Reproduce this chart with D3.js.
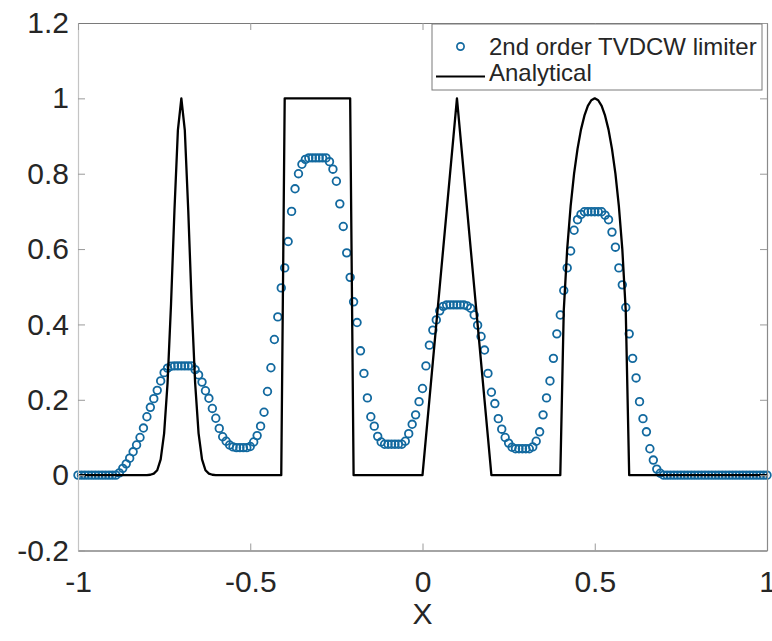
<!DOCTYPE html>
<html>
<head>
<meta charset="utf-8">
<script src="https://cdn.jsdelivr.net/npm/d3@7"></script>
<style>
  body { margin: 0; background: #fff; }
  text { font-family: "Liberation Sans", Arial, Helvetica, sans-serif; fill: #262626; }
</style>
</head>
<body>
<div class="chart"></div>
<script>
// grid nodes, x from -1 to 1 with step 0.01
const xGrid = d3.range(201).map(i => +(-1 + i * 0.01).toFixed(2));

// numerical solution (circles), one value per grid node
const tvdcw = [
  0, 0, 0, 0, 0, 0, 0, 0, 0, 0, 0, 0,
  0.006, 0.018, 0.03, 0.045, 0.062, 0.08, 0.10, 0.125, 0.155, 0.18, 0.203, 0.225, 0.25, 0.272, 0.284, 0.289,
  0.29, 0.29, 0.29, 0.29, 0.29, 0.29,
  0.28, 0.266, 0.247, 0.224, 0.204, 0.177, 0.151, 0.124, 0.102, 0.09, 0.08, 0.075,
  0.073, 0.073, 0.073, 0.073,
  0.076, 0.088, 0.105, 0.13, 0.167, 0.222, 0.285, 0.36, 0.42, 0.497, 0.55, 0.62, 0.70, 0.76, 0.80, 0.825, 0.838,
  0.842, 0.842, 0.842, 0.842, 0.842, 0.842,
  0.832, 0.812, 0.78, 0.72, 0.66, 0.59, 0.525, 0.46, 0.405, 0.33, 0.27, 0.205, 0.155, 0.13, 0.103, 0.088,
  0.082, 0.082, 0.082, 0.082, 0.082, 0.082,
  0.09, 0.11, 0.135, 0.16, 0.195, 0.23, 0.29, 0.345, 0.385, 0.412, 0.436, 0.448,
  0.452, 0.452, 0.452, 0.452, 0.452, 0.452,
  0.449, 0.443, 0.425, 0.398, 0.368, 0.332, 0.27, 0.22, 0.19, 0.15, 0.122, 0.1, 0.085, 0.074,
  0.07, 0.07, 0.07, 0.07, 0.07,
  0.075, 0.09, 0.115, 0.16, 0.205, 0.25, 0.31, 0.375, 0.425, 0.49, 0.55, 0.595, 0.65, 0.678, 0.692,
  0.699, 0.699, 0.699, 0.699, 0.699, 0.699,
  0.69, 0.678, 0.645, 0.605, 0.55, 0.505, 0.445, 0.375, 0.31, 0.258, 0.195, 0.15, 0.115, 0.07, 0.04, 0.016, 0.005,
  0, 0, 0, 0, 0, 0, 0, 0, 0, 0, 0, 0, 0, 0, 0, 0, 0, 0, 0, 0, 0, 0, 0, 0, 0, 0, 0, 0, 0, 0, 0
];

// analytical solution (black line), one value per grid node
const analytical = [
  0, 0, 0, 0, 0, 0, 0, 0, 0, 0, 0, 0, 0, 0, 0, 0, 0, 0, 0, 0, 0,
  0.001, 0.004, 0.013, 0.042, 0.111, 0.245, 0.453, 0.703, 0.916, 1, 0.916, 0.703, 0.453, 0.245, 0.111, 0.042, 0.013, 0.004, 0.001,
  0, 0, 0, 0, 0, 0, 0, 0, 0, 0, 0, 0, 0, 0, 0, 0, 0, 0, 0, 0,
  1, 1, 1, 1, 1, 1, 1, 1, 1, 1, 1, 1, 1, 1, 1, 1, 1, 1, 1, 1,
  0, 0, 0, 0, 0, 0, 0, 0, 0, 0, 0, 0, 0, 0, 0, 0, 0, 0, 0, 0, 0,
  0.1, 0.2, 0.3, 0.4, 0.5, 0.6, 0.7, 0.8, 0.9, 1, 0.9, 0.8, 0.7, 0.6, 0.5, 0.4, 0.3, 0.2, 0.1,
  0, 0, 0, 0, 0, 0, 0, 0, 0, 0, 0, 0, 0, 0, 0, 0, 0, 0, 0, 0, 0,
  0.436, 0.6, 0.714, 0.8, 0.866, 0.917, 0.954, 0.98, 0.995, 1, 0.995, 0.98, 0.954, 0.917, 0.866, 0.8, 0.714, 0.6, 0.436,
  0, 0, 0, 0, 0, 0, 0, 0, 0, 0, 0, 0, 0, 0, 0, 0, 0, 0, 0, 0,
  0, 0, 0, 0, 0, 0, 0, 0, 0, 0, 0, 0, 0, 0, 0, 0, 0, 0, 0, 0, 0
];

const xTicks = [-1, -0.5, 0, 0.5, 1];
const xTickLabels = ["-1", "-0.5", "0", "0.5", "1"];
const yTicks = [-0.2, 0, 0.2, 0.4, 0.6, 0.8, 1, 1.2];
const yTickLabels = ["-0.2", "0", "0.2", "0.4", "0.6", "0.8", "1", "1.2"];
const seriesNames = ["2nd order TVDCW limiter", "Analytical"];

//Margin convention
const W = 772, H = 641;
const margin = {top: 23, left: 78, bottom: 90.5, right: 5};
const width = W - margin.left - margin.right;
const height = H - margin.top - margin.bottom;

const blue = "#12699f";

const svg = d3.select('.chart').append('svg')
    .attr('width', W)
    .attr('height', H);

const g = svg.append('g')
    .attr('transform', `translate(${margin.left},${margin.top})`);

//Scales
const xScale = d3.scaleLinear().domain([-1, 1]).range([0, width]);
const yScale = d3.scaleLinear().domain([-0.2, 1.2]).range([height, 0]);

// numerical circles
g.selectAll('circle.num')
    .data(xGrid)
    .enter()
    .append('circle')
    .attr('class', 'num')
    .attr('cx', d => xScale(d))
    .attr('cy', (d, i) => yScale(tvdcw[i]))
    .attr('r', 3.8)
    .attr('fill', 'none')
    .attr('stroke', blue)
    .attr('stroke-width', 1.8);

// analytical line
const line = d3.line()
    .x(d => xScale(d))
    .y((d, i) => yScale(analytical[i]));

g.append('path')
    .datum(xGrid)
    .attr('d', line)
    .attr('fill', 'none')
    .attr('stroke', '#000')
    .attr('stroke-width', 2.3)
    .attr('stroke-linejoin', 'round');

//Axes (ticks pointing inward, MATLAB style)
const xAxis = d3.axisBottom(xScale).tickValues(xTicks)
    .tickFormat((d, i) => xTickLabels[i]).tickSizeInner(-7).tickSizeOuter(0).tickPadding(20);
const yAxis = d3.axisLeft(yScale).tickValues(yTicks)
    .tickFormat((d, i) => yTickLabels[i]).tickSizeInner(-7).tickSizeOuter(0).tickPadding(9);
const xAxisTop = d3.axisTop(xScale).tickValues(xTicks).tickFormat('').tickSizeInner(-7).tickSizeOuter(0);
const yAxisRight = d3.axisRight(yScale).tickValues(yTicks).tickFormat('').tickSizeInner(-7).tickSizeOuter(0);

const gx = g.append('g').attr('transform', `translate(0,${height})`).call(xAxis);
const gy = g.append('g').call(yAxis);
const gt = g.append('g').call(xAxisTop);
const gr = g.append('g').attr('transform', `translate(${width},0)`).call(yAxisRight);

[gx, gy].forEach(a => a.selectAll('text')
    .style('font-size', '30px')
    .attr('fill', '#262626'));

gx.select('.domain').attr('stroke', '#4a4a4a').attr('stroke-width', 1.2);
gy.select('.domain').attr('stroke', '#c4c4c4').attr('stroke-width', 1.2);
gt.select('.domain').attr('stroke', '#7a7a7a').attr('stroke-width', 1.2);
gr.select('.domain').attr('stroke', '#8a8a8a').attr('stroke-width', 1.2);
[gx, gy, gt, gr].forEach(a => a.selectAll('.tick line').attr('stroke', '#9a9a9a'));

//x-axis label
g.append('text')
    .attr('x', width / 2)
    .attr('y', height + 73)
    .attr('text-anchor', 'middle')
    .style('font-size', '30px')
    .text('X');

//legend
const legend = svg.append('g').attr('transform', 'translate(432,24)');
legend.append('rect')
    .attr('width', 330)
    .attr('height', 66)
    .attr('fill', '#fff')
    .attr('stroke', '#7a7a7a')
    .attr('stroke-width', 1);

legend.append('circle')
    .attr('cx', 28.5).attr('cy', 22.5).attr('r', 3.6)
    .attr('fill', 'none').attr('stroke', blue).attr('stroke-width', 1.7);
legend.append('line')
    .attr('x1', 4).attr('x2', 53).attr('y1', 52.5).attr('y2', 52.5)
    .attr('stroke', '#000').attr('stroke-width', 2);

legend.selectAll('.legend-text')
    .data(seriesNames)
    .enter()
    .append('text')
    .attr('class', 'legend-text')
    .attr('x', 57)
    .attr('y', (d, i) => 31 + i * 26)
    .style('font-size', '24px')
    .text(d => d);
</script>
</body>
</html>
